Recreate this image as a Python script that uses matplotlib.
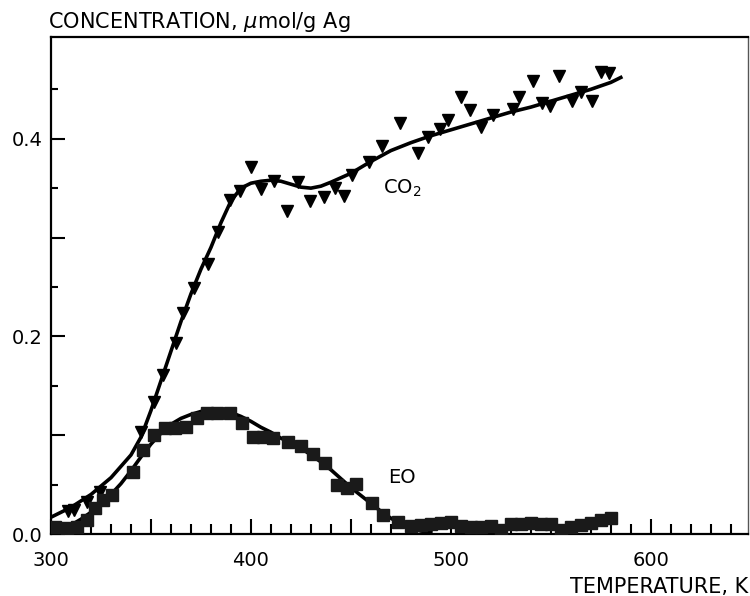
import matplotlib
matplotlib.use("Agg")
import matplotlib.pyplot as plt
from matplotlib.ticker import MultipleLocator, FuncFormatter, FixedLocator

plt.rcParams["font.family"] = ["DejaVu Sans"]
plt.rcParams["mathtext.fontset"] = "dejavusans"

# CO2 data points (triangles)
co2_T = [308.5, 311.5, 318, 324.5, 345, 351.5, 356, 362.5, 366, 371.5, 378.5,
         383.5, 389.5, 394.5, 400, 405, 411.5, 418, 423.5, 429.5, 436.5, 442,
         446.5, 450.5, 459, 465.5, 474.5, 483.5, 488.5, 494.5, 498.5, 505,
         509.5, 515, 521, 531, 534, 541, 545.5, 549.5, 554, 560.5, 565, 570.5,
         575, 579]
co2_c = [0.023, 0.024, 0.032, 0.043, 0.103, 0.134, 0.161, 0.193, 0.224, 0.249,
         0.273, 0.306, 0.338, 0.347, 0.371, 0.349, 0.357, 0.327, 0.356, 0.337,
         0.341, 0.350, 0.342, 0.363, 0.376, 0.393, 0.416, 0.386, 0.402, 0.410,
         0.419, 0.442, 0.429, 0.412, 0.424, 0.430, 0.442, 0.458, 0.436, 0.433,
         0.463, 0.438, 0.447, 0.438, 0.468, 0.467]

# CO2 fitted curve
co2_fit_T = [300, 310, 320, 330, 340, 345, 350, 355, 360, 365, 370, 375, 380,
             385, 390, 395, 400, 405, 410, 415, 420, 425, 430, 435, 440, 450,
             460, 470, 480, 490, 500, 510, 520, 530, 540, 550, 560, 570, 580, 585]
co2_fit_c = [0.017, 0.027, 0.040, 0.057, 0.080, 0.098, 0.125, 0.155, 0.185,
             0.215, 0.243, 0.268, 0.290, 0.315, 0.337, 0.350, 0.355, 0.357,
             0.358, 0.357, 0.354, 0.351, 0.350, 0.352, 0.356, 0.365, 0.377,
             0.388, 0.396, 0.403, 0.409, 0.415, 0.421, 0.427, 0.432, 0.438,
             0.444, 0.450, 0.457, 0.462]

# EO data points (squares)
eo_T = [302, 308, 313, 318, 322, 326, 330.5, 341, 346, 351.5, 357, 362, 367.5,
        373, 378, 383, 389.5, 395.5, 401, 406, 411, 418.5, 425, 431, 437, 443,
        448, 452.5, 460.5, 466, 473.5, 480, 485, 490, 495, 500, 505, 510, 515,
        520, 525, 530, 535, 540, 545, 550, 555, 560, 565, 570, 575, 580]
eo_c = [0.007, 0.006, 0.007, 0.014, 0.026, 0.034, 0.039, 0.063, 0.085, 0.100,
        0.107, 0.107, 0.108, 0.117, 0.122, 0.122, 0.122, 0.112, 0.098, 0.098,
        0.097, 0.093, 0.089, 0.081, 0.072, 0.050, 0.047, 0.051, 0.031, 0.019,
        0.012, 0.008, 0.009, 0.010, 0.011, 0.012, 0.008, 0.007, 0.007, 0.008,
        0.004, 0.010, 0.010, 0.011, 0.010, 0.010, 0.004, 0.007, 0.009, 0.011,
        0.014, 0.016]

# EO fitted curve
eo_fit_T = [300, 305, 310, 315, 320, 325, 330, 335, 340, 345, 350, 355, 360,
            365, 370, 375, 380, 385, 390, 395, 400, 405, 410, 415, 420, 425,
            430, 435, 440, 445, 450, 455, 460, 465, 470, 475, 480, 485, 490]
eo_fit_c = [0.002, 0.005, 0.009, 0.015, 0.022, 0.030, 0.040, 0.051, 0.064,
            0.078, 0.091, 0.102, 0.111, 0.117, 0.121, 0.124, 0.125, 0.125,
            0.123, 0.119, 0.114, 0.108, 0.103, 0.097, 0.092, 0.087, 0.080,
            0.073, 0.065, 0.056, 0.047, 0.039, 0.031, 0.023, 0.016, 0.010,
            0.006, 0.003, 0.002]

y_major = [0.0, 0.1, 0.2, 0.3, 0.4]
y_minor = [0.05, 0.15, 0.25, 0.35, 0.45]

fig = plt.figure(figsize=(7.5, 5.96), dpi=100)
ax = fig.add_axes([0.068, 0.104, 0.929, 0.834])

ax.plot(co2_fit_T, co2_fit_c, color="black", lw=2.6, zorder=3)
ax.plot(co2_T, co2_c, "v", color="black", ms=8.5, zorder=4)
ax.plot(eo_fit_T, eo_fit_c, color="black", lw=2.6, zorder=3)
ax.plot(eo_T, eo_c, "s", color="#1a1a1a", ms=8, zorder=4)

ax.text(466, 0.350, r"CO$_\mathregular{2}$", fontsize=14, va="center", ha="left")
ax.text(468.5, 0.057, "EO", fontsize=14, va="center", ha="left")

ax.set_xlim(300, 648.5)
ax.set_ylim(0, 0.503)

ax.xaxis.set_major_locator(MultipleLocator(50))
ax.xaxis.set_minor_locator(MultipleLocator(10))
ax.xaxis.set_major_formatter(FuncFormatter(
    lambda v, p: "%d" % v if round(v) % 100 == 0 else ""))
ax.yaxis.set_major_locator(FixedLocator(y_major))
ax.yaxis.set_minor_locator(FixedLocator(y_minor))
ax.yaxis.set_major_formatter(FuncFormatter(
    lambda v, p: "%.1f" % v if round(v * 10) % 2 == 0 else ""))

ax.tick_params(axis="x", which="major", direction="in", length=11, width=1.5,
               pad=12, labelsize=14)
ax.tick_params(axis="x", which="minor", direction="in", length=7, width=1.5)
ax.tick_params(axis="y", which="major", direction="in", length=10, width=1.5,
               pad=6, labelsize=14)
ax.tick_params(axis="y", which="minor", direction="in", length=5, width=1.5)

for s in ["left", "top", "bottom"]:
    ax.spines[s].set_linewidth(1.6)
ax.spines["right"].set_linewidth(1.0)
ax.spines["right"].set_color("#555555")

fig.text(0.064, 0.953, r"CONCENTRATION, $\mu$mol/g Ag", fontsize=15,
         ha="left", va="baseline")
fig.text(0.997, 0.005, "TEMPERATURE, K", fontsize=15, ha="right",
         va="baseline")

fig.savefig("out.png", dpi=100)
